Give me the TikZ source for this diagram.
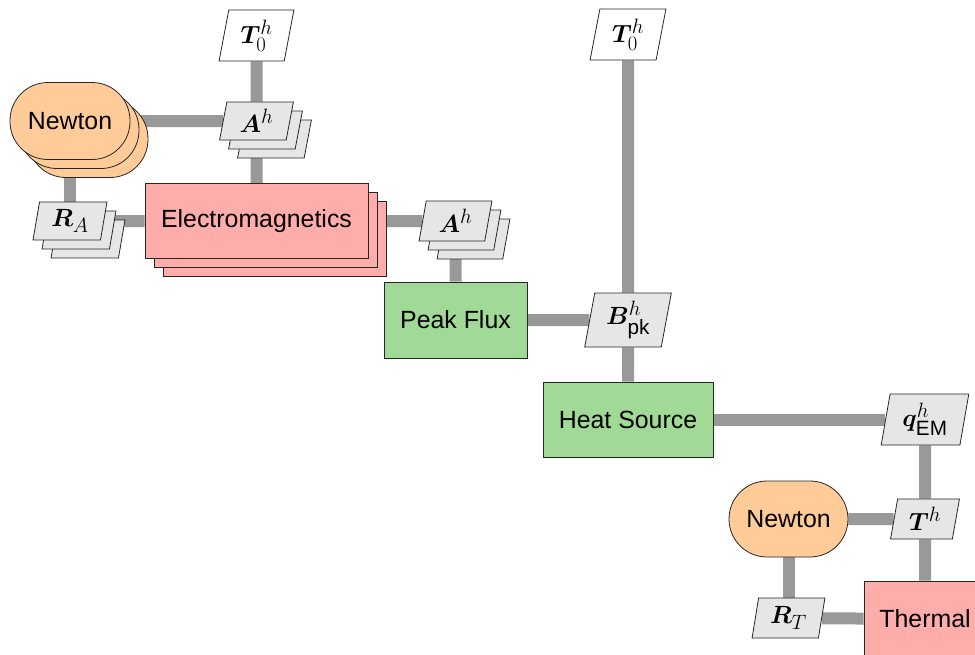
\documentclass[tikz,border=0pt]{standalone}
\usepackage{amsmath}
\usepackage{bm}
\usepackage{fontspec}
\setmainfont{Liberation Sans}
\usetikzlibrary{shapes.geometric,shadows,backgrounds}
\definecolor{pinkc}{RGB}{255,173,170}
\definecolor{greenc}{RGB}{161,217,150}
\definecolor{orangec}{RGB}{255,204,153}
\definecolor{grayc}{RGB}{230,230,230}
\definecolor{linkc}{RGB}{153,153,153}
\begin{document}
\begin{tikzpicture}[x=1pt,y=-1pt,
  font=\fontsize{24.88}{30}\selectfont,
  proc/.style={rectangle, draw=black!85, line width=0.8pt, inner sep=0pt},
  emc/.style={proc, fill=pinkc},
  pfc/.style={proc, fill=greenc},
  newton/.style={rectangle, rounded corners=38pt, draw=black!85, line width=0.8pt, fill=orangec, inner sep=0pt},
  data/.style={trapezium, trapezium left angle=80, trapezium right angle=100,
    trapezium stretches=true, draw=black!85, line width=0.8pt, fill=grayc, inner sep=0pt},
  datawhite/.style={data, fill=white},
  stack/.style={
    copy shadow={shadow xshift=18pt, shadow yshift=-18pt, fill=#1, draw=black!85},
    copy shadow={shadow xshift=9pt, shadow yshift=-9pt, fill=#1, draw=black!85}},
  link/.style={line width=12pt, draw=linkc}
]
\useasboundingbox (0,0) rectangle (975,654);
\clip (0,0) rectangle (975,654);

\node[datawhite, minimum width=75pt, minimum height=51pt] (t0a) at (256.5,35.5) {$\bm{T}^h_0$};
\node[data, stack=grayc, minimum width=74pt, minimum height=38pt] (ahA) at (256.5,121) {$\bm{A}^h$};
\node[newton, stack=orangec, minimum width=120pt, minimum height=77pt] (newtonA) at (70,121) {Newton};
\node[data, stack=grayc, minimum width=74pt, minimum height=38pt] (raA) at (70,221) {$\bm{R}_A$};
\node[emc, stack=pinkc, minimum width=223pt, minimum height=75pt] (em) at (256.5,221) {Electromagnetics};
\node[data, stack=grayc, minimum width=73pt, minimum height=40pt] (ahB) at (455.5,221) {$\bm{A}^h$};
\node[pfc, minimum width=143pt, minimum height=76pt] (pf) at (455.5,320) {Peak Flux};
\node[data, minimum width=87pt, minimum height=54pt] (bpk) at (628,320) {$\bm{B}^h_{\text{pk}}$};
\node[datawhite, minimum width=76pt, minimum height=51pt] (t0b) at (628,34.5) {$\bm{T}^h_0$};
\node[pfc, minimum width=170pt, minimum height=75pt] (hs) at (628,419.5) {Heat Source};
\node[data, minimum width=88pt, minimum height=51pt] (qem) at (925,419.5) {$\bm{q}^h_{\text{EM}}$};
\node[newton, minimum width=119pt, minimum height=76pt] (newtonB) at (788.5,519) {Newton};
\node[data, minimum width=69pt, minimum height=40pt] (th) at (925,519) {$\bm{T}^h$};
\node[data, minimum width=73pt, minimum height=40pt] (rt) at (788.5,618) {$\bm{R}_T$};
\node[emc, minimum width=122pt, minimum height=76pt] (thermal) at (925,619) {Thermal};

\begin{scope}[on background layer]
  \draw[link] (t0a) -- (ahA);
  \draw[link] (newtonA) -- (ahA);
  \draw[link] (ahA) -- (em);
  \draw[link] (newtonA) -- (raA);
  \draw[link] (raA) -- (em);
  \draw[link] (em) -- (ahB);
  \draw[link] (ahB) -- (pf);
  \draw[link] (pf) -- (bpk);
  \draw[link] (t0b) -- (bpk);
  \draw[link] (bpk) -- (hs);
  \draw[link] (hs) -- (qem);
  \draw[link] (qem) -- (th);
  \draw[link] (newtonB) -- (th);
  \draw[link] (th) -- (thermal);
  \draw[link] (newtonB) -- (rt);
  \draw[link] (rt) -- (thermal);
\end{scope}
\end{tikzpicture}
\end{document}
